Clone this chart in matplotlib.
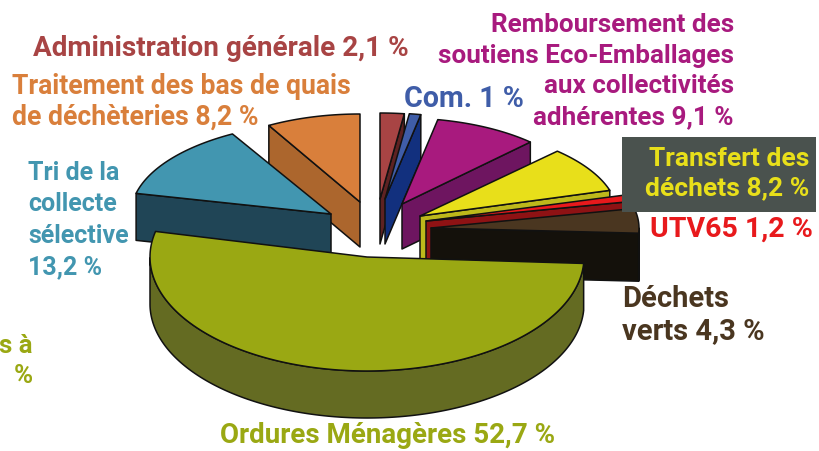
#3D exploded pie, drawn slice by slice from the percentages
import numpy as np
import matplotlib
matplotlib.use('Agg')
import matplotlib.pyplot as plt
from matplotlib.patches import Polygon, Rectangle

#clockwise from the top of the pie
categories = ['Administration générale', 'Com.', 'Remboursement', 'Transfert', 'UTV65',
              'Déchets verts', 'Ordures Ménagères', 'Tri', 'Traitement']
values = [2.1, 1.0, 9.1, 8.2, 1.2, 4.3, 52.7, 13.2, 8.2]

#where each slice sits and how it looks
apex_x = [380, 385, 402, 420, 426, 431, 367, 331, 360]
apex_y = [200, 200, 205, 217, 222, 229, 258, 215, 203]
rad_x = [185, 185, 185, 198, 205, 208, 217, 200, 185]
rad_y = [86, 86, 86, 90, 90, 92, 114, 92, 88]
depth = [45, 45, 45, 45, 45, 48, 47, 47, 45]
top_col = ['#A84444', '#3F5DA8', '#A81A7E', '#E8DF1A', '#E8191C', '#4A3620', '#9AA813', '#4296B0', '#D97F3B']
wall_col = ['#5E2222', '#12307E', '#6E1560', '#BDB81B', '#8E1214', '#14110B', '#646B22', '#204556', '#AC662D']

labels = [
    ('Administration générale 2,1 %', 221, 48, 'center', '#A84444', 20.1, 1.2),
    ('Traitement des bas de quais\nde déchèteries 8,2 %', 12, 102, 'left', '#D97F3B', 19.2, 1.2),
    ('Com. 1 %', 464, 99, 'center', '#3F5DA8', 20.6, 1.2),
    ('Remboursement des\nsoutiens Eco-Emballages\naux collectivités\nadhérentes 9,1 %', 734, 71, 'right', '#A81A7E', 18.7, 1.36),
    ('Transfert des\ndéchets 8,2 %', 809, 174, 'right', '#E8DF1A', 19, 1.28),
    ('UTV65 1,2 %', 813, 229, 'right', '#E8191C', 20.5, 1.2),
    ('Déchets\nverts 4,3 %', 622, 315, 'left', '#4A3620', 21, 1.22),
    ('Ordures Ménagères 52,7 %', 388, 436, 'center', '#9AA813', 20, 1.2),
    ('Tri de la\ncollecte\nsélective\n13,2 %', 28, 220, 'left', '#4296B0', 18, 1.38),
    ('s à\n%', 33, 361, 'right', '#9AA813', 18.5, 1.35),
]

fig = plt.figure(figsize=(8.2, 4.52), dpi=100)
ax = fig.add_axes([0, 0, 1, 1])
ax.set_xlim(0, 820)
ax.set_ylim(452, 0)
ax.axis('off')

#slice angles from the values
angles = np.array(values) / sum(values) * 360
ends = 90 - np.cumsum(angles)
starts = ends + angles


def rim(i, a):
    return np.array([apex_x[i] + rad_x[i] * np.cos(np.radians(a)),
                     apex_y[i] - rad_y[i] * np.sin(np.radians(a))])


def add_poly(pts, color):
    ax.add_patch(Polygon(pts, closed=True, facecolor=color, edgecolor='#111111', linewidth=1.1, joinstyle='round'))


#back to front
order = [0, 8, 1, 7, 2, 3, 4, 5, 6]
for i in order:
    apex = np.array([apex_x[i], apex_y[i]], dtype=float)
    drop = np.array([0, depth[i]])
    mid = rim(i, (starts[i] + ends[i]) / 2) - apex
    #radial walls, only when they face the viewer
    for a in [starts[i], ends[i]]:
        p = rim(i, a)
        e = p - apex
        if (e[0] * mid[1] - e[1] * mid[0]) * (e[0] * 1 - e[1] * 0) < 0 and angles[i] < 180:
            add_poly([apex, p, p + drop, apex + drop], wall_col[i])
    #outer wall, the part below the equator
    th = np.linspace(starts[i], ends[i], 200)
    th = th[np.sin(np.radians(th)) < 0.0]
    if len(th) > 1:
        arc = np.array([rim(i, a) for a in th])
        add_poly(np.vstack([arc, arc[::-1] + drop]), wall_col[i])
    th = np.linspace(starts[i], ends[i], 200)
    top = np.array([rim(i, a) for a in th])
    add_poly(np.vstack([apex, top]), top_col[i])

#box behind the Transfert label
ax.add_patch(Rectangle((622, 138), 194, 75, facecolor='#4A524E', edgecolor='none', zorder=3))

for text, x, y, ha, col, size, spacing in labels:
    ax.text(x, y, text, ha=ha, va='center', color=col, fontsize=size, fontweight='bold',
            family=['Roboto', 'DejaVu Sans'], linespacing=spacing, zorder=4)

fig.savefig('out.png', dpi=100)
